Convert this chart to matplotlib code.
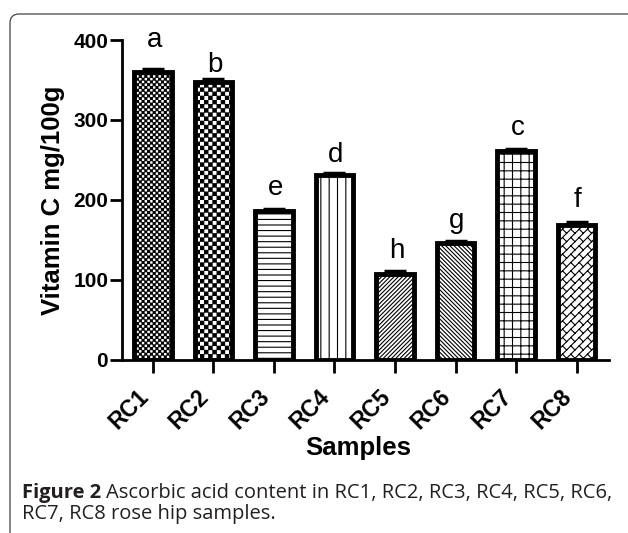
import warnings

import numpy as np
import matplotlib
matplotlib.use("Agg")
import matplotlib.pyplot as plt
import matplotlib.hatch as mhatch
from matplotlib.path import Path
from matplotlib.patches import FancyBboxPatch
from matplotlib.transforms import IdentityTransform, ScaledTranslation

warnings.filterwarnings("ignore")

samples = ["RC1", "RC2", "RC3", "RC4", "RC5", "RC6", "RC7", "RC8"]
vitamin_c = [360, 347, 186, 231, 107, 146, 261, 169]
errors = [4, 4, 3, 3, 4, 3, 3, 3]
groups = ["a", "b", "e", "d", "h", "g", "c", "f"]
group_lift = [16, 5, 10, 8, 9, 9, 10, 11]  # points above the cap
hatches = ["QQQ", "KK", "---", "||", "////////", "\\\\\\\\\\\\\\\\", "++", "BB"]


class CheckerHatch(mhatch.HatchPatternBase):
    """Filled checkerboard, 'K' coarse / 'Q' fine."""
    char = "K"
    inset = 0.004

    def __init__(self, hatch, density):
        self.n = hatch.count(self.char) * density * 2
        self.num_vertices = (self.n * self.n // 2) * 5

    def set_vertices_and_codes(self, vertices, codes):
        s = 1.0 / self.n
        e = self.inset
        sq = np.array([[e, e], [s - e, e], [s - e, s - e], [e, s - e], [e, e]])
        pos = [(i * s, j * s) for i in range(self.n) for j in range(self.n)
               if (i + j) % 2 == 0]
        vertices[:] = np.concatenate([sq + p for p in pos])
        codes[:] = np.tile([Path.MOVETO, Path.LINETO, Path.LINETO,
                            Path.LINETO, Path.CLOSEPOLY], len(pos))


class FineCheckerHatch(CheckerHatch):
    char = "Q"


class BrickHatch(mhatch.HatchPatternBase):
    """Diagonal bricks: NE lines with short staggered cross strokes."""

    def __init__(self, hatch, density):
        m = hatch.count("B") * density
        segs = []
        if m:
            s = 1.0 / m
            for k in range(-m - 1, m + 2):
                segs.append([(-s, -s + k * s), (1 + s, 1 + s + k * s)])
                for j in range(-m - 2, 2 * m + 2):
                    a = j * s
                    y0 = a + k * s
                    if -2 * s < a < 1 + 2 * s and -2 * s < y0 < 1 + 2 * s:
                        segs.append([(a, y0), (a - s / 2, y0 + s / 2)])
        self.segs = segs
        self.num_vertices = len(segs) * 2

    def set_vertices_and_codes(self, vertices, codes):
        vertices[:] = np.array(self.segs).reshape(-1, 2)
        codes[0::2] = Path.MOVETO
        codes[1::2] = Path.LINETO


mhatch._hatch_types += [CheckerHatch, FineCheckerHatch, BrickHatch]

plt.rcParams["font.family"] = ["Liberation Sans", "DejaVu Sans"]
plt.rcParams["hatch.linewidth"] = 0.8

fig = plt.figure(figsize=(6.28, 5.33), dpi=100)
ax = fig.add_axes([0.1943, 0.3253, 0.7754, 0.5995])

x = np.arange(len(samples))
ax.errorbar(x, vitamin_c, yerr=errors, fmt="none", ecolor="black",
            elinewidth=2, capsize=8, capthick=2.5, zorder=1)
ax.bar(x, vitamin_c, width=0.62, color="white", edgecolor="black",
       linewidth=3.5, hatch=hatches, zorder=2)

for i, (v, e, g) in enumerate(zip(vitamin_c, errors, groups)):
    ax.annotate(g, (i, v + e), xytext=(1, group_lift[i]),
                textcoords="offset points", ha="center", va="baseline",
                fontsize=20)

ax.set_xlim(-0.51, 7.535)
ax.set_ylim(0, 400)
ax.set_yticks([0, 100, 200, 300, 400])
ax.set_xticks(x)
ax.set_xticklabels(samples, rotation=45, ha="right", va="top")
for lab in ax.get_xticklabels():
    lab.set_transform(lab.get_transform() +
                      ScaledTranslation(7 / 100, 0, fig.dpi_scale_trans))

for side in ("top", "right"):
    ax.spines[side].set_visible(False)
for side in ("left", "bottom"):
    ax.spines[side].set_linewidth(2)

ax.tick_params(axis="both", width=2, length=9)
ax.tick_params(axis="y", pad=1, labelsize=15)
ax.tick_params(axis="x", pad=9, labelsize=16.5)
for lab in ax.get_xticklabels() + ax.get_yticklabels():
    lab.set_fontweight("bold")

ax.set_ylabel("Vitamin C mg/100g", fontsize=18.5, fontweight="bold", labelpad=6)
ax.set_xlabel("Samples", fontsize=18.5, fontweight="bold", labelpad=2)
ax.xaxis.label.set_x(0.486)

# rounded frame around the figure
frame = FancyBboxPatch((10, -30), 660, 549, boxstyle="round,pad=0,rounding_size=9",
                       transform=IdentityTransform(), facecolor="none",
                       edgecolor="#444444", linewidth=0.9)
fig.patches.append(frame)

cap_color = "#231f20"
bold = fig.text(22 / 628, 0.0657, "Figure 2", fontsize=14.5, fontweight="bold",
                family="Open Sans", color=cap_color, va="baseline")
fig.canvas.draw()
ext = bold.get_window_extent()
fig.text((ext.x1 + 5) / 628, 0.0657,
         "Ascorbic acid content in RC1, RC2, RC3, RC4, RC5, RC6,",
         fontsize=14.5, family="Open Sans", color=cap_color, va="baseline")
fig.text(22 / 628, 0.0263, "RC7, RC8 rose hip samples.", fontsize=14.5,
         family="Open Sans", color=cap_color, va="baseline")

fig.savefig("out.png", dpi=100)
